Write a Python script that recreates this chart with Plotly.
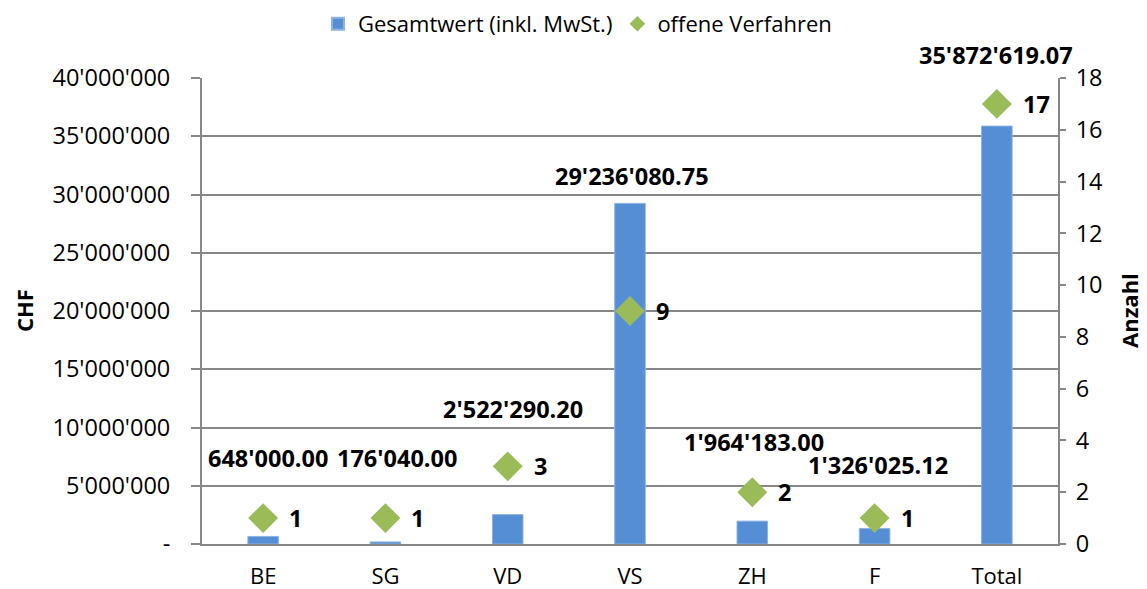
import plotly.graph_objects as go

categories = ["BE", "SG", "VD", "VS", "ZH", "F", "Total"]
gesamtwert = [648000.00, 176040.00, 2522290.20, 29236080.75, 1964183.00, 1326025.12, 35872619.07]
gesamtwert_labels = ["648'000.00", "176'040.00", "2'522'290.20", "29'236'080.75",
                     "1'964'183.00", "1'326'025.12", "35'872'619.07"]
label_y = [7.38e6, 7.38e6, 11.6e6, 31.6e6, 8.76e6, 6.78e6, 41.97e6]
label_dx = [5, 12, 5, 2, 2, 3, -1]
verfahren = [1, 1, 3, 9, 2, 1, 17]

left_tickvals = [0, 5e6, 10e6, 15e6, 20e6, 25e6, 30e6, 35e6, 40e6]
left_ticktext = ["-", "5'000'000", "10'000'000", "15'000'000", "20'000'000",
                 "25'000'000", "30'000'000", "35'000'000", "40'000'000"]

FONT = "Open Sans"
FS = 23.5
BLUE = "#558ED5"
GREEN = "#9BBB59"
GRID = "#878787"

# page body has an 8px margin; compensate so the plot lands where intended
OFF = 8
W, H = 1147 - OFF, 589 - OFF
plot_l, plot_r, plot_t, plot_b = 202, 1058, 78, 544
YMAX = 40e6
plot_h = plot_b - plot_t

fig = go.Figure()
fig.add_trace(go.Bar(
    x=categories, y=gesamtwert, name="Gesamtwert (inkl. MwSt.)",
    marker=dict(color=BLUE, line=dict(color="#8DB3E2", width=1)),
    width=0.25, yaxis="y",
))
fig.add_trace(go.Scatter(
    x=categories, y=verfahren, name="offene Verfahren", mode="markers",
    marker=dict(symbol="diamond", color=GREEN, size=23),
    yaxis="y2", cliponaxis=False,
))

for c, v in zip(categories, verfahren):
    fig.add_annotation(x=c, y=v, xref="x", yref="y2", text=f"<b>{v}</b>",
                       showarrow=False, xanchor="left", xshift=24,
                       font=dict(family=FONT, size=FS, color="#000"))

for c, yv, t, dx in zip(categories, label_y, gesamtwert_labels, label_dx):
    extra = max(0.0, yv - YMAX) / YMAX * plot_h
    fig.add_annotation(x=c, y=min(yv, YMAX), xref="x", yref="y", text=f"<b>{t}</b>",
                       showarrow=False, xshift=dx, yshift=extra,
                       font=dict(family=FONT, size=FS, color="#000"))

fig.add_annotation(x=(24 - plot_l) / (plot_r - plot_l), y=0.5, xref="paper", yref="paper",
                   xanchor="center", text="<b>CHF</b>", textangle=-90, showarrow=False,
                   font=dict(family=FONT, size=22, color="#000"))
fig.add_annotation(x=(1129 - plot_l) / (plot_r - plot_l), y=0.5, xref="paper", yref="paper",
                   xanchor="center", text="<b>Anzahl</b>", textangle=-90, showarrow=False,
                   font=dict(family=FONT, size=22, color="#000"))

fig.update_layout(
    width=W, height=H,
    margin=dict(l=plot_l - OFF, r=1147 - plot_r, t=plot_t - OFF, b=589 - plot_b,
                autoexpand=False),
    paper_bgcolor="white", plot_bgcolor="white",
    font=dict(family=FONT, size=FS, color="#000"),
    showlegend=True,
    legend=dict(orientation="h", x=0.5, xref="container", xanchor="center",
                y=1 - (24 - OFF) / H, yanchor="middle", yref="container",
                font=dict(size=22), itemsizing="constant", traceorder="normal"),
    bargap=0.75,
    xaxis=dict(range=[-0.5, 6.5], showline=True, linecolor=GRID, linewidth=2, ticks="",
               ticklabelstandoff=12, automargin=False, tickfont=dict(size=22)),
    yaxis=dict(range=[0, YMAX], tickvals=left_tickvals, ticktext=left_ticktext,
               showgrid=True, gridcolor=GRID, gridwidth=1.5,
               showline=True, linecolor=GRID, linewidth=2,
               ticks="outside", ticklen=9, tickcolor=GRID, tickwidth=1.5,
               ticklabelstandoff=16, zeroline=False, automargin=False),
    yaxis2=dict(range=[0, 18], dtick=2, overlaying="y", side="right",
                showgrid=False, showline=True, linecolor=GRID, linewidth=2,
                ticks="outside", ticklen=6, tickcolor=GRID, tickwidth=1.5,
                ticklabelstandoff=5, zeroline=False, automargin=False),
)

fig.write_html("out.html")
